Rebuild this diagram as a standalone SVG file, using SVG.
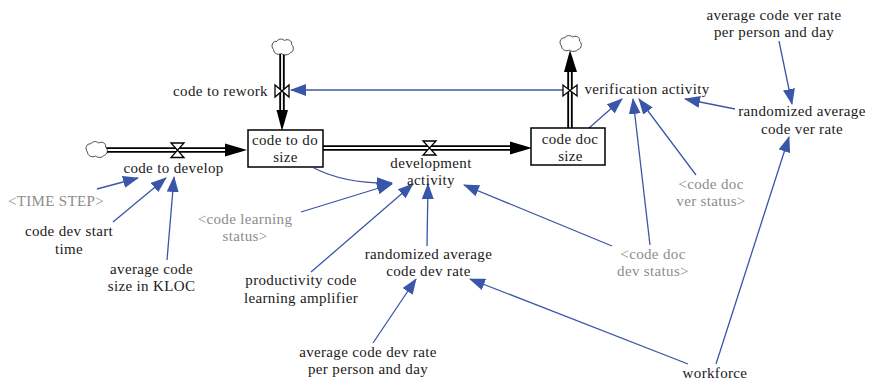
<svg xmlns="http://www.w3.org/2000/svg" width="870" height="382" viewBox="0 0 870 382">
<style>
text{font-family:"Liberation Serif","Times New Roman",serif;font-size:15px;letter-spacing:.35px;fill:#1a1a1a;text-anchor:middle}
.g{fill:#8c8c8c}
.l{fill:none;stroke:#3a56a8;stroke-width:1.3}
.p1{fill:none;stroke:#000;stroke-width:5.500}
.p2{fill:none;stroke:#fff;stroke-width:1.8}
.box{fill:#fff;stroke:#000;stroke-width:1.5}
.cloud{fill:#fff;stroke:#000;stroke-width:.7}
.v{fill:#fff;stroke:#000;stroke-width:1.3}
</style>
<defs>
<marker id="a" markerUnits="userSpaceOnUse" markerWidth="16" markerHeight="12" refX="15" refY="6" orient="auto"><path d="M0,0L16,6L0,12Z" fill="#3a56a8"/></marker>
<path id="c" d="M-9,2C-12,-1-10,-7-6,-6C-4,-9 0,-9 2,-7C5,-9 10,-7 9,-3C12,-1 11,5 8,5C6,8 1,8 -1,6C-4,8-9,6-9,2Z"/>
</defs>
<g id="connectors">
<path class="p1" d="M105,150H226"/><path class="p2" d="M105,150H226"/><path d="M225,143.500L247,150L225,156.500Z"/>
<path class="p1" d="M282,52V112"/><path class="p2" d="M282,52V112"/><path d="M276.500,110H288L282,131Z"/>
<path class="p1" d="M323,148H512"/><path class="p2" d="M323,148H512"/><path d="M510,141.500L532,148L510,154.500Z"/>
<path class="p1" d="M570,128V70"/><path class="p2" d="M570,128V70"/><path d="M564,72L570,50L577,72Z"/>
<path class="l" marker-end="url(#a)" d="M563,90H291"/>
<path class="l" marker-end="url(#a)" d="M97,189L138,178"/>
<path class="l" marker-end="url(#a)" d="M113,222L166,178"/>
<path class="l" marker-end="url(#a)" d="M167,260L174,177"/>
<path class="l" marker-end="url(#a)" d="M314,168Q345,184 392,183"/>
<path class="l" marker-end="url(#a)" d="M301,212L392,184"/>
<path class="l" marker-end="url(#a)" d="M311,272L413,184"/>
<path class="l" marker-end="url(#a)" d="M427,246L428,184"/>
<path class="l" marker-end="url(#a)" d="M612,246L464,185"/>
<path class="l" marker-end="url(#a)" d="M373,343L416,279"/>
<path class="l" marker-end="url(#a)" d="M688,364L470,279"/>
<path class="l" marker-end="url(#a)" d="M716,364L789,137"/>
<path class="l" marker-end="url(#a)" d="M589,128L622,99"/>
<path class="l" marker-end="url(#a)" d="M650,245L633,99"/>
<path class="l" marker-end="url(#a)" d="M696,175L639,99"/>
<path class="l" marker-end="url(#a)" d="M735,109L685,99"/>
<path class="l" marker-end="url(#a)" d="M779,41L792,104"/>
</g>
<g id="node-cloud-1"><use href="#c" x="96.500" y="150" class="cloud"/></g>
<g id="node-cloud-2"><use href="#c" x="282.500" y="47.500" class="cloud"/></g>
<g id="node-cloud-3"><use href="#c" x="570.500" y="44" class="cloud"/></g>
<g id="node-code-to-develop"><path class="v" d="M171,143H184L171,157.500H184Z"/><text x="173.500" y="173">code to develop</text></g>
<g id="node-code-to-rework"><path class="v" d="M275,85V97L289,85V97Z"/><text x="220.500" y="96">code to rework</text></g>
<g id="node-development-activity"><path class="v" d="M423,141H436L423,155H436Z"/><text x="431" y="168">development</text><text x="431" y="184.500">activity</text></g>
<g id="node-verification-activity"><path class="v" d="M563,85V96L577,85V96Z"/><text x="647" y="94">verification activity</text></g>
<g id="node-code-to-do-size"><rect class="box" x="248" y="130" width="75" height="37"/><text x="285" y="144.500">code to do</text><text x="285.500" y="162">size</text></g>
<g id="node-code-doc-size"><rect class="box" x="531" y="128" width="74" height="37"/><text x="570" y="143.500">code doc</text><text x="570.500" y="161">size</text></g>
<g id="node-time-step"><text class="g" x="56" y="206">&lt;TIME STEP&gt;</text></g>
<g id="node-code-dev-start"><text x="69" y="236">code dev start</text><text x="69" y="253.500">time</text></g>
<g id="node-avg-size"><text x="151.500" y="274">average code</text><text x="151.500" y="291">size in KLOC</text></g>
<g id="node-learning-status"><text class="g" x="245" y="224">&lt;code learning</text><text class="g" x="245" y="241">status&gt;</text></g>
<g id="node-amplifier"><text x="301" y="285">productivity code</text><text x="301" y="303">learning amplifier</text></g>
<g id="node-dev-rate"><text x="428.500" y="259">randomized average</text><text x="428.500" y="276">code dev rate</text></g>
<g id="node-dev-status"><text class="g" x="653" y="259">&lt;code doc</text><text class="g" x="653" y="276">dev status&gt;</text></g>
<g id="node-dev-person"><text x="368" y="357">average code dev rate</text><text x="368" y="373.500">per person and day</text></g>
<g id="node-workforce"><text x="715" y="378">workforce</text></g>
<g id="node-ver-status"><text class="g" x="711" y="189">&lt;code doc</text><text class="g" x="711" y="206">ver status&gt;</text></g>
<g id="node-ver-rate"><text x="802" y="116">randomized average</text><text x="802" y="133.500">code ver rate</text></g>
<g id="node-ver-person"><text x="774" y="20">average code ver rate</text><text x="774" y="37">per person and day</text></g>
</svg>
